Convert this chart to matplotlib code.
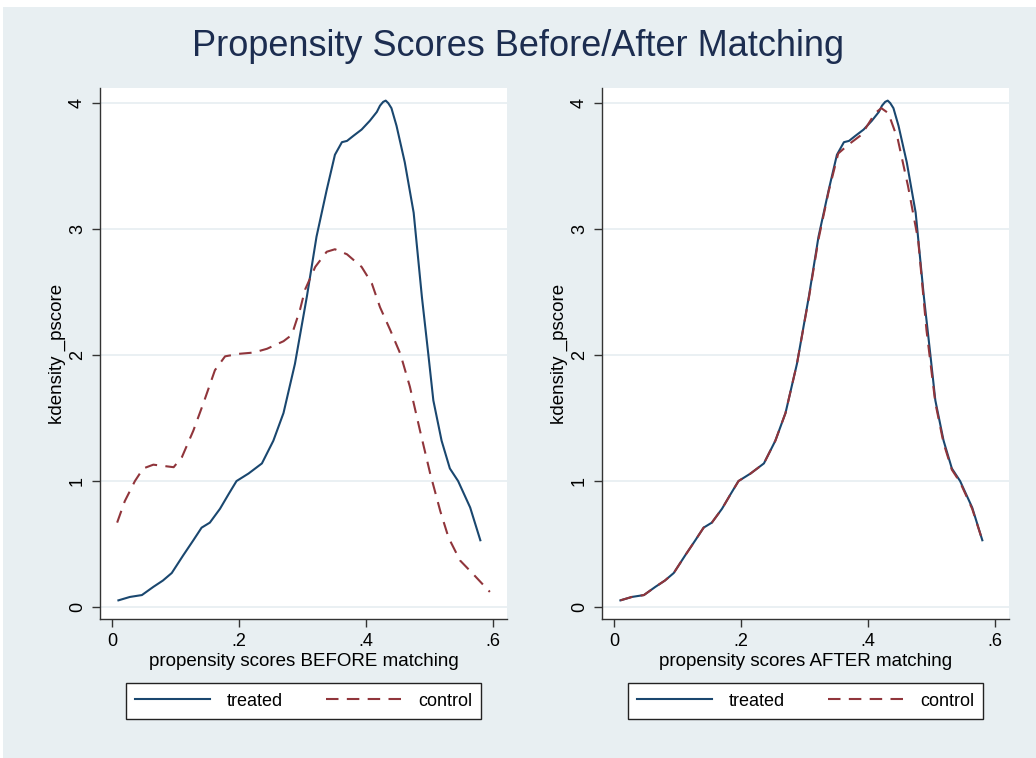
import matplotlib
matplotlib.use("Agg")
import matplotlib.pyplot as plt
from matplotlib.patches import Rectangle
from matplotlib.lines import Line2D

# kdensity of propensity score, treated group (same in both panels)
treated_x = [0.010, 0.028, 0.047, 0.065, 0.080, 0.094, 0.112, 0.128, 0.141, 0.154,
             0.170, 0.184, 0.196, 0.215, 0.236, 0.254, 0.270, 0.288, 0.307, 0.322,
             0.338, 0.351, 0.362, 0.370, 0.380, 0.393, 0.406, 0.417, 0.422, 0.427,
             0.431, 0.435, 0.440, 0.448, 0.461, 0.475, 0.488, 0.498, 0.506, 0.519,
             0.532, 0.545, 0.564, 0.580]
treated_y = [0.053, 0.08, 0.095, 0.16, 0.21, 0.27, 0.41, 0.53, 0.63, 0.67,
             0.78, 0.90, 1.00, 1.06, 1.14, 1.32, 1.54, 1.93, 2.47, 2.94,
             3.31, 3.59, 3.69, 3.70, 3.74, 3.79, 3.86, 3.93, 3.98, 4.01,
             4.02, 4.00, 3.96, 3.82, 3.53, 3.13, 2.46, 2.01, 1.64, 1.32,
             1.10, 1.00, 0.79, 0.53]

# control group before matching
control_x = [0.008, 0.020, 0.036, 0.049, 0.065, 0.081, 0.097, 0.110, 0.128, 0.144,
             0.162, 0.178, 0.200, 0.223, 0.244, 0.270, 0.283, 0.296, 0.304, 0.320,
             0.338, 0.351, 0.370, 0.393, 0.409, 0.422, 0.438, 0.454, 0.469, 0.485,
             0.501, 0.517, 0.530, 0.548, 0.569, 0.595]
control_y = [0.67, 0.84, 1.00, 1.10, 1.13, 1.12, 1.11, 1.19, 1.40, 1.62,
             1.88, 1.99, 2.01, 2.02, 2.05, 2.11, 2.16, 2.36, 2.52, 2.70,
             2.82, 2.84, 2.80, 2.70, 2.57, 2.38, 2.20, 2.01, 1.75, 1.40,
             1.06, 0.76, 0.55, 0.37, 0.26, 0.12]

# control group after matching
matched_x = [0.010, 0.028, 0.047, 0.065, 0.080, 0.094, 0.112, 0.128, 0.141, 0.154,
             0.170, 0.184, 0.196, 0.215, 0.236, 0.254, 0.270, 0.288, 0.307, 0.322,
             0.338, 0.353, 0.369, 0.390, 0.411, 0.421, 0.432, 0.447, 0.463, 0.479,
             0.492, 0.506, 0.519, 0.532, 0.545, 0.564, 0.580]
matched_y = [0.053, 0.08, 0.095, 0.16, 0.21, 0.27, 0.41, 0.53, 0.63, 0.67,
             0.78, 0.90, 1.00, 1.06, 1.14, 1.32, 1.54, 1.93, 2.46, 2.92,
             3.30, 3.60, 3.67, 3.75, 3.92, 3.96, 3.92, 3.71, 3.34, 2.91,
             2.20, 1.62, 1.30, 1.09, 0.99, 0.78, 0.53]

x_ticks = [0, 0.2, 0.4, 0.6]
x_ticklabels = ["0", ".2", ".4", ".6"]
y_ticks = [0, 1, 2, 3, 4]

navy = "#1a476f"
maroon = "#90353b"
bg = "#e8eff2"

plt.rcParams['font.family'] = ['Liberation Sans', 'DejaVu Sans']

fig = plt.figure(figsize=(10.36, 7.58), dpi=100)
fig.patch.set_facecolor("white")
fig.patches.append(Rectangle((3 / 1036, 0), 1, 1 - 7 / 758, transform=fig.transFigure,
                             facecolor=bg, edgecolor="none", zorder=-10))

fig.text(0.5, 1 - 46 / 758, "Propensity Scores Before/After Matching",
         ha="center", va="center", fontsize=26, color="#1c2d50")


def panel(left_px, ctrl_x, ctrl_y, xlabel):
    ax = fig.add_axes([left_px / 1036, 1 - 619 / 758, 407 / 1036, 531 / 758])
    ax.set_facecolor("white")
    ax.plot(treated_x, treated_y, color=navy, lw=1.5, solid_joinstyle="round", zorder=3)
    ax.plot(ctrl_x, ctrl_y, color=maroon, lw=1.5, dashes=(6, 4), zorder=3)
    ax.set_xlim(-0.019, 0.622)
    ax.set_ylim(-0.095, 4.12)
    ax.set_xticks(x_ticks)
    ax.set_xticklabels(x_ticklabels)
    ax.set_yticks(y_ticks)
    ax.set_yticklabels([str(t) for t in y_ticks], rotation=90, va="center")
    ax.yaxis.grid(True, color="#e6eef1", lw=1.2)
    ax.set_axisbelow(True)
    for s in ["top", "right"]:
        ax.spines[s].set_visible(False)
    for s in ["left", "bottom"]:
        ax.spines[s].set_color("#333333")
        ax.spines[s].set_linewidth(1.0)
    ax.tick_params(axis="both", direction="out", length=6, width=1.0, color="#333333",
                   labelsize=13, pad=4)
    ax.set_xlabel(xlabel, fontsize=13.5, labelpad=2)
    ax.set_ylabel("kdensity _pscore", fontsize=13.5, labelpad=2)

    handles = [Line2D([], [], color=navy, lw=1.5),
               Line2D([], [], color=maroon, lw=1.5, dashes=(6, 4))]
    leg = ax.legend(handles, ["treated", "control"], loc="center",
                    bbox_to_anchor=(0.5, (619 - 701) / 531), ncol=2, fontsize=13,
                    frameon=True, fancybox=False, framealpha=1, handlelength=4.2,
                    columnspacing=2.4, borderpad=0.5, handletextpad=0.9)
    leg.get_frame().set_edgecolor("#222222")
    leg.get_frame().set_facecolor("white")
    leg.get_frame().set_linewidth(1.0)
    return ax


panel(100, control_x, control_y, "propensity scores BEFORE matching")
panel(602, matched_x, matched_y, "propensity scores AFTER matching")

fig.savefig("out.png", dpi=100, facecolor=fig.get_facecolor())
